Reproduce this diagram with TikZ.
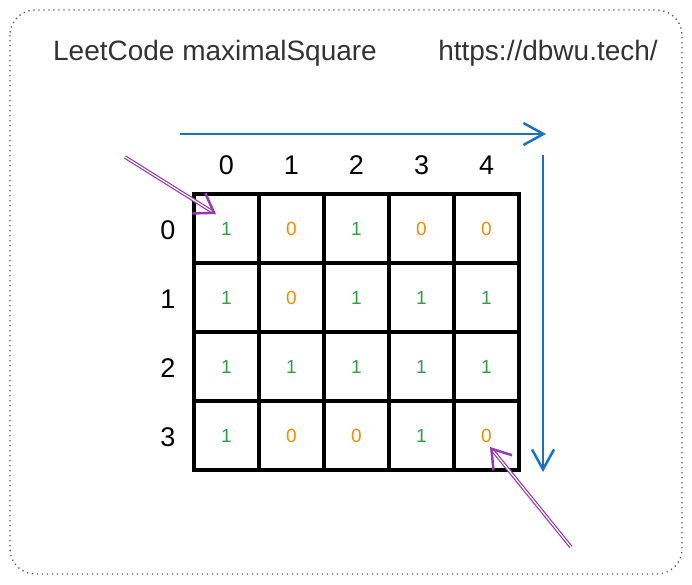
\documentclass[tikz,border=0pt]{standalone}
\usepackage{fontspec}
\setmainfont{Liberation Sans}
\usetikzlibrary{arrows.meta}
\definecolor{onegreen}{HTML}{2F9E44}
\definecolor{zeroorange}{HTML}{F08C00}
\definecolor{scanblue}{HTML}{1971C2}
\definecolor{markpurple}{HTML}{9C36B5}
\tikzset{
  cell/.style={draw, line width=3.5pt, minimum width=65pt, minimum height=69pt, inner sep=0pt,
    font=\fontsize{19}{22}\selectfont},
  idx/.style={font=\fontsize{27}{32}\selectfont},
  heading/.style={font=\fontsize{28}{32}\selectfont, text=black!80},
  scan/.style={scanblue, line width=2.5pt, -{Straight Barb[length=20pt,width=22pt,line width=2.5pt]}},
  pointer/.style={markpurple, double=white, double distance=1.2pt, line width=1.2pt,
    -{Straight Barb[length=18pt,width=24pt,line width=2.5pt]}}
}
\begin{document}
\begin{tikzpicture}[x=1pt, y=-1pt]
	\useasboundingbox (0, 0) rectangle (692, 584);
	\draw[black!65, line width=1.3pt, dash pattern=on 1.3pt off 3.7pt, rounded corners=25pt] (10, 10) rectangle (682, 574);
	\node[heading] (title) at (215, 53) {LeetCode maximalSquare};
	\node[heading] (url) at (548, 53) {https://dbwu.tech/};
	% the matrix
	\foreach \row/\vals in {0/{1,0,1,0,0}, 1/{1,0,1,1,1}, 2/{1,1,1,1,1}, 3/{1,0,0,1,0}} {
		\foreach \v [count=\col from 0] in \vals {
			\ifnum\v=1 \def\vc{onegreen}\else \def\vc{zeroorange}\fi
			\node[cell, text=\vc] (c-\row-\col) at (226.5 + 65*\col, 228.5 + 69*\row) {\v};
		}
	}
	\foreach \col in {0,...,4}
		\node[idx] (top-\col) at (226.5 + 65*\col, 165) {\col};
	\foreach \row in {0,...,3}
		\node[idx] (left-\row) at (168, 230 + 69*\row) {\row};
	% scan direction
	\coordinate (h-start) at (180, 134);
	\coordinate (h-end) at (546, 134);
	\coordinate (v-start) at (543, 155);
	\coordinate (v-end) at (543, 472);
	\draw[scan] (h-start) -- (h-end);
	\draw[scan] (v-start) -- (v-end);
	% first and last cell
	\coordinate (m-start) at (125, 157);
	\coordinate (m-end) at (571, 547);
	\draw[pointer] (m-start) -- ([shift={(-10.5,-14.5)}]c-0-0.center);
	\draw[pointer] (m-end) -- ([shift={(3.5,11.5)}]c-3-4.center);
\end{tikzpicture}
\end{document}
